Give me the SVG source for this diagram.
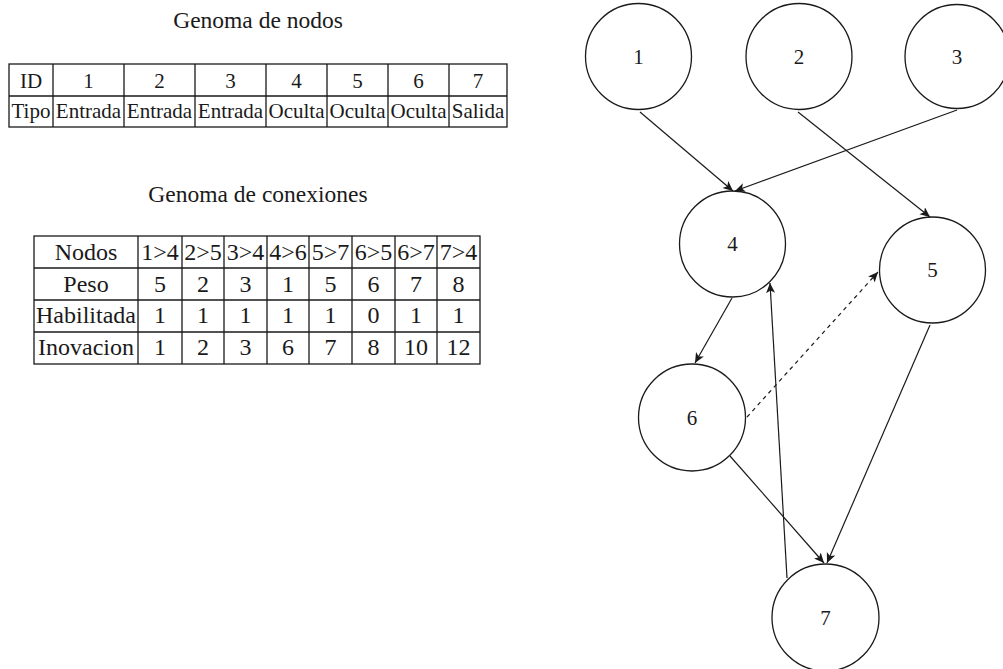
<svg xmlns="http://www.w3.org/2000/svg" width="1003" height="669" viewBox="0 0 1003 669">
  <style>
    text { font-family: "Liberation Serif", "Times New Roman", serif; fill: #1a1a1a; text-anchor: middle; }
    .title { font-size: 23.5px; }
    .t1 { font-size: 21px; }
    .t2 { font-size: 24px; }
    .lbl { font-size: 21px; }
    .grid { stroke: #1a1a1a; stroke-width: 1.3; fill: none; }
    .node circle { fill: #ffffff; stroke: #1a1a1a; stroke-width: 1.3; }
    .edge { stroke: #1a1a1a; stroke-width: 1.2; fill: none; marker-end: url(#arrow); }
    .dashed { stroke-dasharray: 4 4; }
  </style>
  <defs>
    <marker id="arrow" markerUnits="userSpaceOnUse" markerWidth="12" markerHeight="10" refX="10" refY="4.5" orient="auto">
      <path d="M0,0 L10,4.5 L0,9 L2.5,4.5 z" fill="#1a1a1a"/>
    </marker>
  </defs>
  <rect width="1003" height="669" fill="#ffffff"/>

  <!-- node genome table -->
  <g id="tabla-nodos">
    <text class="title" x="258" y="28">Genoma de nodos</text>
    <rect class="grid" x="9" y="64" width="498" height="63"/>
    <path class="grid" d="M9,96 H507 M53,64 V127 M124,64 V127 M195,64 V127 M266,64 V127 M327,64 V127 M388,64 V127 M449,64 V127"/>
    <g class="t1">
      <text x="31" y="88">ID</text>
      <text x="88.5" y="88">1</text>
      <text x="159.5" y="88">2</text>
      <text x="230.5" y="88">3</text>
      <text x="296.5" y="88">4</text>
      <text x="357.5" y="88">5</text>
      <text x="418.5" y="88">6</text>
      <text x="478" y="88">7</text>
      <text x="31" y="118">Tipo</text>
      <text x="88.5" y="118">Entrada</text>
      <text x="159.5" y="118">Entrada</text>
      <text x="230.5" y="118">Entrada</text>
      <text x="296.5" y="118">Oculta</text>
      <text x="357.5" y="118">Oculta</text>
      <text x="418.5" y="118">Oculta</text>
      <text x="478" y="118">Salida</text>
    </g>
  </g>

  <!-- connection genome table -->
  <g id="tabla-conexiones">
    <text class="title" x="258" y="202">Genoma de conexiones</text>
    <rect class="grid" x="34" y="236" width="446" height="128"/>
    <path class="grid" d="M34,268 H480 M34,300 H480 M34,332 H480 M138,236 V364 M182,236 V364 M224,236 V364 M267,236 V364 M309,236 V364 M352,236 V364 M395,236 V364 M437,236 V364"/>
    <g class="t2">
      <text x="86" y="260">Nodos</text>
      <text x="160" y="260">1&gt;4</text>
      <text x="203" y="260">2&gt;5</text>
      <text x="245.5" y="260">3&gt;4</text>
      <text x="288" y="260">4&gt;6</text>
      <text x="330.5" y="260">5&gt;7</text>
      <text x="373.5" y="260">6&gt;5</text>
      <text x="416" y="260">6&gt;7</text>
      <text x="458.5" y="260">7&gt;4</text>

      <text x="86" y="292">Peso</text>
      <text x="160" y="292">5</text>
      <text x="203" y="292">2</text>
      <text x="245.5" y="292">3</text>
      <text x="288" y="292">1</text>
      <text x="330.5" y="292">5</text>
      <text x="373.5" y="292">6</text>
      <text x="416" y="292">7</text>
      <text x="458.5" y="292">8</text>

      <text x="86" y="323">Habilitada</text>
      <text x="160" y="323">1</text>
      <text x="203" y="323">1</text>
      <text x="245.5" y="323">1</text>
      <text x="288" y="323">1</text>
      <text x="330.5" y="323">1</text>
      <text x="373.5" y="323">0</text>
      <text x="416" y="323">1</text>
      <text x="458.5" y="323">1</text>

      <text x="86" y="355">Inovacion</text>
      <text x="160" y="355">1</text>
      <text x="203" y="355">2</text>
      <text x="245.5" y="355">3</text>
      <text x="288" y="355">6</text>
      <text x="330.5" y="355">7</text>
      <text x="373.5" y="355">8</text>
      <text x="416" y="355">10</text>
      <text x="458.5" y="355">12</text>
    </g>
  </g>

  <!-- network nodes -->
  <g id="n1" class="node"><circle cx="638.5" cy="56.5" r="53"/><text class="lbl" x="638.5" y="64">1</text></g>
  <g id="n2" class="node"><circle cx="799" cy="56.5" r="53"/><text class="lbl" x="799" y="64">2</text></g>
  <g id="n3" class="node"><circle cx="957" cy="56.5" r="52"/><text class="lbl" x="957" y="64">3</text></g>
  <g id="n4" class="node"><circle cx="732.5" cy="244" r="53"/><text class="lbl" x="732.5" y="251">4</text></g>
  <g id="n5" class="node"><circle cx="932.5" cy="270" r="53"/><text class="lbl" x="932.5" y="277">5</text></g>
  <g id="n6" class="node"><circle cx="692" cy="417.5" r="53.5"/><text class="lbl" x="692" y="425">6</text></g>
  <g id="n7" class="node"><circle cx="825.5" cy="617.5" r="53.5"/><text class="lbl" x="825.5" y="625">7</text></g>

  <!-- connections -->
  <g id="conexiones">
    <line class="edge" x1="640" y1="112" x2="733" y2="191"/>
    <line class="edge" x1="957" y1="110" x2="735" y2="191"/>
    <line class="edge" x1="798" y1="112" x2="930" y2="217"/>
    <line class="edge" x1="732" y1="298" x2="695" y2="363"/>
    <line class="edge" x1="787" y1="578" x2="770" y2="283"/>
    <line class="edge dashed" x1="747" y1="417" x2="878" y2="272"/>
    <line class="edge" x1="730" y1="456" x2="824" y2="563"/>
    <line class="edge" x1="930" y1="325" x2="827" y2="563"/>
  </g>
</svg>
